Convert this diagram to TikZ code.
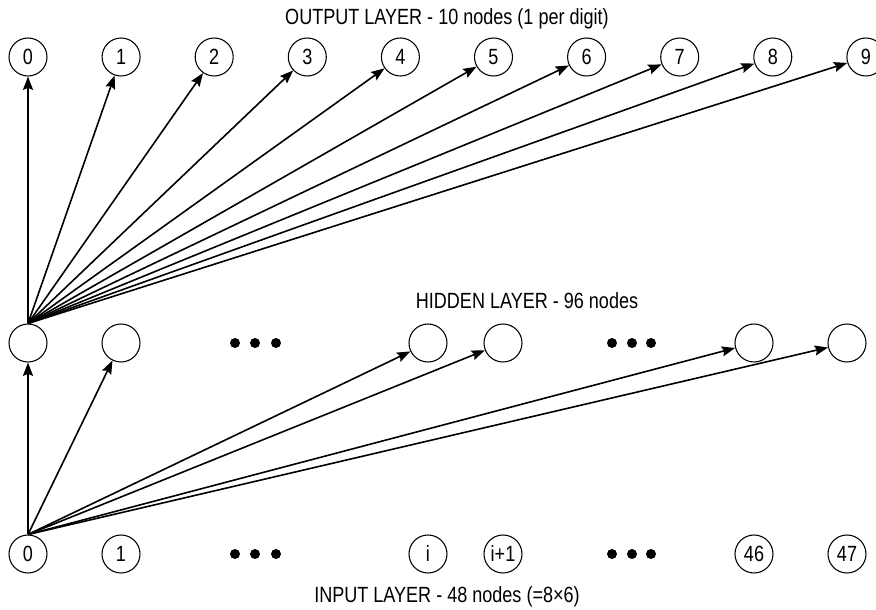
\documentclass[tikz,border=0pt]{standalone}
\usepackage{fontspec}
\setmainfont{Liberation Sans}[FakeStretch=0.82]
\usetikzlibrary{arrows.meta}
\tikzset{>={Stealth[length=10pt, width=7.5pt, inset=1.5pt]}}
\tikzset{unit/.style={circle, draw, line width=0.8pt, minimum size=28.5pt, inner sep=0pt},
  link/.style={->, line width=1.2pt},
  layertitle/.style={anchor=base}}
\begin{document}
\begin{tikzpicture}[x=0.75pt, y=-0.75pt, font=\fontsize{16.5}{19}\selectfont]
  \useasboundingbox (0,0) rectangle (876,610);
  % output layer
  \foreach \d in {0,...,9}
    \node[unit] (o\d) at ({28+93.1*\d}, 57) {\d};
  \node[layertitle] (otitle) at (447, 25) {OUTPUT LAYER - 10 nodes (1 per digit)};
  % hidden layer
  \foreach \n/\x in {0/28, 1/121, i/428, j/503, m/754, n/847}
    \node[unit] (h\n) at (\x, 343) {};
  \node[layertitle] (htitle) at (527, 308) {HIDDEN LAYER - 96 nodes};
  % input layer
  \foreach \n/\x/\lab in {0/28/0, 1/121/1, i/428/i, j/503/i+1, m/754/46, n/847/47}
    \node[unit] (in\n) at (\x, 554) {\lab};
  \node[layertitle] (ititle) at (447, 602) {INPUT LAYER - 48 nodes (=8×6)};
  % dots
  \foreach \x in {235, 255, 276, 612, 632, 651}
    \foreach \y in {343, 554}
      \fill (\x, \y) circle (3.75pt);
  % weights
  \foreach \d in {0,...,9}
    \draw[link] (h0.north) -- (o\d);
  \foreach \n in {0, 1, i, j, m, n}
    \draw[link] (in0.north) -- (h\n);
\end{tikzpicture}
\end{document}
